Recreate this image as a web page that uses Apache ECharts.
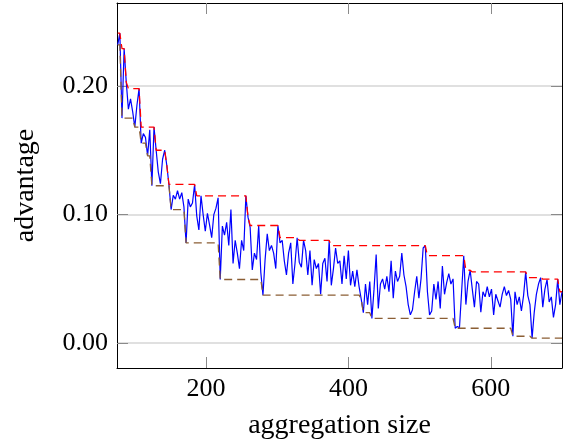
<!DOCTYPE html>
<html><head><meta charset="utf-8">
<script src="https://cdn.jsdelivr.net/npm/echarts@6/dist/echarts.min.js"></script>
<style>html,body{margin:0;padding:0;background:#fff}#c{width:566px;height:445px}</style>
</head><body><div id="c"></div>
<script>
// aggregation sizes: sampled from xStart every xStep
const xStart = 76, xStep = 3;
const advantage = [
0.232,0.241,0.175,0.229,0.203,0.182,0.190,0.180,0.168,0.185,
0.198,0.1555,0.163,0.160,0.1456,0.166,0.1224,0.168,0.150,0.133,
0.124,0.143,0.150,0.138,0.123,0.1039,0.115,0.112,0.1186,0.112,
0.117,0.106,0.078,0.112,0.106,0.109,0.1234,0.099,0.088,0.1146,
0.100,0.087,0.101,0.092,0.082,0.100,0.105,0.113,0.0495,0.091,
0.084,0.094,0.076,0.104,0.062,0.080,0.070,0.058,0.080,0.072,
0.1146,0.098,0.090,0.057,0.070,0.065,0.0912,0.055,0.0374,0.065,
0.085,0.072,0.076,0.070,0.058,0.0915,0.078,0.080,0.064,0.053,
0.070,0.078,0.046,0.062,0.082,0.063,0.059,0.0799,0.072,0.053,
0.072,0.045,0.065,0.058,0.062,0.038,0.062,0.066,0.048,0.0799,
0.045,0.058,0.074,0.062,0.064,0.046,0.068,0.050,0.072,0.045,
0.056,0.044,0.057,0.044,0.0343,0.0237,0.046,0.030,0.048,0.0193,
0.042,0.069,0.027,0.046,0.050,0.042,0.052,0.040,0.064,0.035,
0.056,0.048,0.052,0.070,0.053,0.044,0.030,0.022,0.026,0.040,
0.052,0.035,0.050,0.074,0.0758,0.040,0.022,0.025,0.046,0.034,
0.048,0.027,0.060,0.038,0.047,0.054,0.046,0.050,0.0116,0.013,
0.012,0.040,0.068,0.030,0.048,0.0567,0.042,0.028,0.048,0.046,
0.024,0.040,0.036,0.044,0.036,0.042,0.022,0.038,0.033,0.028,
0.038,0.044,0.037,0.041,0.034,0.0054,0.040,0.030,0.036,0.025,
0.037,0.0554,0.037,0.030,0.0039,0.024,0.038,0.046,0.051,0.028,
0.042,0.0495,0.032,0.036,0.020,0.030,0.0498,0.030,0.040
];
// upper bound (red dashed) corner points [size, value]
const upperBound = [
[76,0.241],[79,0.241],[82,0.229],[85,0.229],[88,0.203],[91,0.198],[106,0.198],
[109,0.168],[127,0.168],[130,0.150],[142,0.150],[145,0.138],[148,0.1234],[184,0.1234],
[187,0.1146],[256,0.1146],[259,0.098],[262,0.0915],[301,0.0915],[304,0.082],[328,0.082],
[331,0.0799],[373,0.0799],[376,0.0758],[508,0.0758],[511,0.068],[562,0.068],[565,0.0567],
[571,0.0567],[574,0.0554],[649,0.0554],[652,0.051],[670,0.051],[673,0.0498],[694,0.0498],
[697,0.040],[700,0.040]
];
// lower bound (brown dashed) corner points [size, value]
const lowerBound = [
[76,0.232],[79,0.232],[82,0.175],[97,0.175],[100,0.168],[106,0.168],[109,0.1555],
[115,0.1555],[118,0.1456],[121,0.1456],[124,0.1224],[148,0.1224],[151,0.1039],[169,0.1039],
[172,0.078],[217,0.078],[220,0.0495],[277,0.0495],[280,0.0374],[415,0.0374],[418,0.0343],
[421,0.0237],[430,0.0237],[433,0.0193],[547,0.0193],[550,0.0116],[628,0.0116],[631,0.0054],
[655,0.0054],[658,0.0039],[700,0.0039]
];
const xTicks = [200, 400, 600];
const yTicks = [0, 0.1, 0.2];

const blueData = advantage.map((v, i) => [xStart + i * xStep, v]);
const FONT = 'Liberation Serif';
const tickStyle = {color: '#8a8a8a', width: 1};

const chart = echarts.init(document.getElementById('c'), null, {renderer: 'canvas'});
chart.setOption({
  animation: false,
  backgroundColor: '#fff',
  grid: {left: 117, top: 3, width: 445, height: 367},
  xAxis: [{
    type: 'value', min: 75, max: 700, position: 'bottom',
    axisLine: {show: true, onZero: false, lineStyle: {color: '#000', width: 1}},
    axisTick: {show: true, inside: true, length: 11, customValues: xTicks, lineStyle: tickStyle},
    axisLabel: {customValues: xTicks, fontFamily: FONT, fontSize: 26, color: '#000', margin: 8},
    splitLine: {show: false},
    name: 'aggregation size', nameLocation: 'middle', nameGap: 44,
    nameTextStyle: {fontFamily: FONT, fontSize: 28, color: '#000'}
  }, {
    type: 'value', min: 75, max: 700, position: 'top',
    axisLine: {show: true, onZero: false, lineStyle: {color: '#000', width: 1}},
    axisTick: {show: true, inside: true, length: 11, customValues: xTicks, lineStyle: tickStyle},
    axisLabel: {show: false}, splitLine: {show: false}
  }],
  yAxis: [{
    type: 'value', min: -0.0193, max: 0.2645, position: 'left',
    axisLine: {show: true, onZero: false, lineStyle: {color: '#000', width: 1}},
    axisTick: {show: true, inside: true, length: 11, customValues: yTicks, lineStyle: tickStyle},
    axisLabel: {customValues: yTicks, formatter: v => Number(v).toFixed(2), fontFamily: FONT, fontSize: 26, color: '#000', margin: 9},
    splitLine: {show: true, lineStyle: {color: '#d6d6d6', width: 1.5}},
    name: 'advantage', nameLocation: 'middle', nameGap: 77, nameRotate: 90,
    nameTextStyle: {fontFamily: FONT, fontSize: 28, color: '#000'}
  }, {
    type: 'value', min: -0.0193, max: 0.2645, position: 'right',
    axisLine: {show: true, onZero: false, lineStyle: {color: '#000', width: 1}},
    axisTick: {show: true, inside: true, length: 11, customValues: yTicks, lineStyle: tickStyle},
    axisLabel: {show: false}, splitLine: {show: false}
  }],
  series: [{
    name: 'advantage', type: 'line', data: blueData, symbol: 'none', showSymbol: false,
    lineStyle: {color: '#0000ff', width: 1.2}, z: 3
  }, {
    name: 'upper', type: 'line', data: upperBound, symbol: 'none', showSymbol: false,
    lineStyle: {color: '#ff0000', width: 1.3, type: [8, 5]}, z: 4
  }, {
    name: 'lower', type: 'line', data: lowerBound, symbol: 'none', showSymbol: false,
    lineStyle: {color: '#8b5e34', width: 1.3, type: [8, 5]}, z: 4
  }]
});
</script>
</body></html>
